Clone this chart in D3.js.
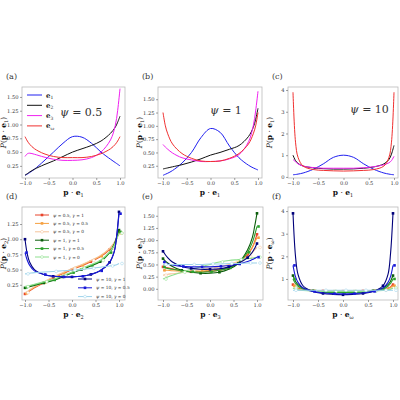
<!DOCTYPE html><html><head><meta charset="utf-8"><script src="https://cdn.jsdelivr.net/npm/d3@7"></script>
<style>body{margin:0;background:#fff}text{font-family:"DejaVu Serif","Liberation Serif",serif}</style></head><body><svg id="c" width="400" height="400"></svg><script>
const X=[-1,-0.95,-0.9,-0.8,-0.6,-0.4,-0.2,0,0.2,0.4,0.6,0.8,0.9,0.95,1];
// panel a (psi=0.5)
const a_e1=[.08,.1,.13,.19,.34,.5,.66,.78,.77,.66,.5,.37,.31,.28,.25];
const a_e2=[.08,.11,.14,.19,.27,.34,.42,.5,.56,.62,.7,.84,.95,1.04,1.15];
const a_e3=[.42,.47,.48,.46,.41,.37,.35,.35,.36,.4,.5,.72,.98,1.25,1.65];
const a_ew=[.78,.7,.64,.56,.47,.42,.4,.4,.4,.42,.47,.56,.64,.7,.78];
// panel b (psi=1)
const b_e1=[.07,.09,.11,.16,.3,.5,.78,.95,.88,.62,.4,.26,.21,.19,.17];
const b_e2=[.19,.2,.21,.23,.27,.32,.38,.45,.5,.56,.63,.8,.97,1.12,1.33];
const b_e3=[.65,.6,.56,.49,.4,.36,.33,.33,.34,.38,.46,.7,1.0,1.28,1.65];
const b_ew=[1.25,1.0,.85,.66,.48,.39,.34,.33,.34,.39,.48,.66,.85,1.0,1.25];
// panel c (psi=10)
const c_e1=[.1,.11,.13,.18,.35,.6,.9,1.0,.9,.6,.35,.18,.13,.11,.1];
const c_e2=[1.0,.75,.62,.5,.42,.38,.36,.36,.37,.4,.46,.6,.8,1.05,1.45];
const c_e3=[.8,.7,.6,.5,.43,.4,.4,.4,.4,.42,.47,.56,.65,.75,.95];
const c_ew=[3.9,1.6,.9,.5,.34,.3,.28,.27,.28,.3,.34,.5,.9,1.6,3.9];
// panel d (e2)
const d=[[.1,.12,.15,.2,.28,.36,.43,.5,.56,.63,.71,.83,.93,1.01,1.12],
[.11,.13,.16,.21,.29,.37,.44,.51,.57,.64,.72,.84,.94,1.02,1.1],
[.12,.14,.17,.22,.3,.38,.45,.52,.58,.65,.73,.85,.95,1.03,1.1],
[.2,.21,.22,.24,.28,.32,.38,.45,.5,.56,.63,.78,.92,1.03,1.15],
[.21,.22,.23,.25,.29,.33,.39,.45,.51,.57,.64,.78,.91,1.01,1.12],
[.22,.23,.24,.26,.3,.34,.4,.46,.52,.58,.65,.79,.9,1.0,1.1],
[1.0,.75,.62,.5,.42,.39,.38,.38,.39,.42,.48,.62,.8,1.05,1.45],
[.78,.65,.57,.48,.42,.39,.38,.38,.39,.42,.48,.62,.8,1.05,1.42],
[.43,.435,.44,.45,.46,.47,.48,.49,.5,.52,.54,.56,.57,.58,.6]];
// panel e (e3)
const e=[[.45,.44,.43,.41,.37,.35,.35,.36,.38,.43,.52,.7,.85,.97,1.12],
[.38,.38,.38,.37,.36,.36,.36,.38,.4,.45,.55,.72,.85,.95,1.05],
[.28,.29,.3,.31,.33,.36,.39,.42,.45,.5,.56,.66,.74,.8,.85],
[.62,.57,.53,.46,.38,.34,.32,.32,.34,.4,.52,.8,1.05,1.28,1.55],
[.45,.43,.42,.4,.37,.35,.34,.35,.38,.43,.53,.75,.95,1.1,1.28],
[.2,.22,.24,.28,.34,.4,.45,.5,.55,.58,.6,.62,.63,.64,.65],
[.77,.7,.64,.55,.46,.42,.4,.4,.41,.45,.52,.64,.75,.83,.93],
[.55,.53,.51,.49,.46,.45,.45,.45,.46,.48,.51,.56,.6,.62,.65],
[.5,.5,.5,.5,.5,.5,.5,.51,.51,.52,.52,.53,.53,.53,.53]];
// panel f (e_omega)
const f=[[.75,.65,.6,.54,.49,.47,.46,.46,.46,.47,.49,.54,.6,.65,.75],
[.7,.62,.57,.52,.48,.46,.46,.46,.46,.46,.48,.52,.57,.62,.7],
[.6,.56,.53,.5,.48,.47,.47,.47,.47,.47,.48,.5,.53,.56,.6],
[1.15,.9,.75,.6,.48,.42,.4,.4,.4,.42,.48,.6,.75,.9,1.15],
[1.0,.8,.68,.56,.47,.42,.4,.4,.4,.42,.47,.56,.68,.8,1.0],
[.6,.55,.52,.49,.46,.45,.45,.45,.45,.45,.46,.49,.52,.55,.6],
[3.9,2.0,1.2,.7,.45,.36,.32,.3,.32,.36,.45,.7,1.2,2.1,3.9],
[1.6,1.1,.85,.6,.45,.38,.35,.34,.35,.38,.45,.6,.85,1.1,1.6],
[.5,.5,.5,.5,.5,.5,.5,.5,.5,.5,.5,.5,.5,.5,.5]];
const seriesLabels=[["0.5","1"],["0.5","0.5"],["0.5","0"],["1","1"],["1","0.5"],["1","0"],["10","1"],["10","0.5"],["10","0"]];
const eLabels=["1","2","3","ω"];
const xTicks=[-1,-0.5,0,0.5,1];

const cols4=["#2020f0","#111111","#f020f0","#f03030"];
const cols9=["#e8452c","#f5a040","#f5c49a","#0b5d0b","#2ca02c","#8fe08f","#00007a","#1a1ad8","#9cd2ea"];
const svg=d3.select("#c");
const fmt2=d3.format(".2f"),fmt1=d3.format(".1f");
function panel(o){
  const g=svg.append("g");
  const x=d3.scaleLinear().domain([-1,1]).range([o.x0,o.x1]);
  const y=d3.scaleLinear().domain(o.yd).range([o.b,o.t]);
  g.append("rect").attr("x",o.l).attr("y",o.t).attr("width",o.r-o.l).attr("height",o.b-o.t).attr("fill","#fff").attr("stroke","#bbb").attr("stroke-width",0.8);
  const ax=g.append("g").attr("transform",`translate(0,${o.b})`).call(d3.axisBottom(x).tickValues(xTicks).tickFormat(v=>v<0?"−"+fmt1(-v):fmt1(v)).tickSize(2).tickPadding(1.5));
  const ay=g.append("g").attr("transform",`translate(${o.l},0)`).call(d3.axisLeft(y).tickValues(o.yt).tickFormat(o.yf).tickSize(2).tickPadding(1.5));
  [ax,ay].forEach(a=>{a.select(".domain").remove();a.selectAll("text").attr("font-size",5.2).attr("fill","#333");a.selectAll("line").attr("stroke","#444").attr("stroke-width",0.5);});
  const line=d3.line().x((v,i)=>x(X[i])).y(v=>y(v)).curve(d3.curveCatmullRom);
  const cl=g.append("g");
  o.ser.forEach((s,k)=>{
    cl.append("path").attr("d",line(s)).attr("fill","none").attr("stroke",o.cols[k]).attr("stroke-width",o.mk?1.1:1);
    if(o.mk){
      const idx=[0,4,5,6,7,8,9,10,11,14].filter((q,j)=>(j+k)%2==0||q==0||q==14);
      idx.forEach(i=>{
        const open=k%3==2;
        if(open) cl.append("circle").attr("cx",x(X[i])+(k%3)*1.5).attr("cy",y(s[i])).attr("r",1.4).attr("fill","#fff").attr("stroke",o.cols[k]).attr("stroke-width",0.5);
        else cl.append("rect").attr("x",x(X[i])-1.3+(k%3)*1.5).attr("y",y(s[i])-1.3).attr("width",2.6).attr("height",2.6).attr("fill",o.cols[k]);
      });
    }
  });
  g.append("text").attr("x",o.l-16).attr("y",o.t-8).attr("font-size",8).attr("fill","#333").text(o.tag);
  const xl=g.append("text").attr("x",(o.l+o.r)/2).attr("y",o.b+17).attr("text-anchor","middle").attr("font-size",7.5).attr("fill","#111");
  xl.append("tspan").attr("font-weight","bold").text("p");xl.append("tspan").text(" · ");xl.append("tspan").attr("font-weight","bold").text("e");
  xl.append("tspan").attr("font-size",5).attr("dy",1.5).text(o.sub);
  const yl=g.append("text").attr("transform",`translate(${o.l-16},${(o.t+o.b)/2}) rotate(-90)`).attr("text-anchor","middle").attr("font-size",7.5).attr("fill","#111");
  yl.append("tspan").attr("font-style","italic").text("P");yl.append("tspan").text("(");
  yl.append("tspan").attr("font-weight","bold").text("p");yl.append("tspan").text(" · ");yl.append("tspan").attr("font-weight","bold").text("e");
  yl.append("tspan").attr("font-size",5).attr("dy",1.5).text(o.sub);yl.append("tspan").attr("dy",-1.5).text(")");
  return g;
}
const f2=v=>fmt2(v), f0=v=>d3.format("d")(v);
const row1={t:87,b:178}, row2={t:207,b:300};
const ga=panel({...row1,l:22,r:125,x0:25,x1:120,yd:[0.03,1.68],yt:[.25,.5,.75,1,1.25,1.5],yf:f2,ser:[a_e1,a_e2,a_e3,a_ew],cols:cols4,tag:"(a)",sub:"1"});
panel({...row1,l:158,r:262,x0:163,x1:258,yd:[0.02,1.73],yt:[.25,.5,.75,1,1.25,1.5],yf:f2,ser:[b_e1,b_e2,b_e3,b_ew],cols:cols4,tag:"(b)",sub:"1"});
panel({...row1,l:288,r:398,x0:293,x1:394,yd:[-0.05,4.14],yt:[0,1,2,3,4],yf:f0,ser:[c_e1,c_e2,c_e3,c_ew],cols:cols4,tag:"(c)",sub:"1"});
const gd=panel({...row2,l:22,r:125,x0:25,x1:119,yd:[0,1.53],yt:[.25,.5,.75,1,1.25],yf:f2,ser:d,cols:cols9,mk:true,tag:"(d)",sub:"2"});
panel({...row2,l:158,r:263,x0:163,x1:257,yd:[-0.23,1.68],yt:[0,.25,.5,.75,1,1.25,1.5],yf:f2,ser:e,cols:cols9,mk:true,tag:"(e)",sub:"3"});
panel({...row2,l:288,r:398,x0:293,x1:393,yd:[0.07,4.18],yt:[1,2,3,4],yf:f0,ser:f,cols:cols9,mk:true,tag:"(f)",sub:"ω"});
// psi labels
[[60,116,"0.5"],[210,114,"1"],[350,113,"10"]].forEach(p=>{const t=svg.append("text").attr("x",p[0]).attr("y",p[1]).attr("font-size",11).attr("fill","#333");t.append("tspan").attr("font-style","italic").text("ψ");t.append("tspan").text(" = "+p[2]);});
// legend a
eLabels.forEach((s,i)=>{const y=95+i*10.3;ga.append("line").attr("x1",27).attr("x2",42).attr("y1",y).attr("y2",y).attr("stroke",cols4[i]).attr("stroke-width",1);
 const t=ga.append("text").attr("x",46).attr("y",y+2.5).attr("font-size",7).attr("fill","#222");t.append("tspan").attr("font-weight","bold").text("e");t.append("tspan").attr("font-size",4.5).attr("dy",1.5).text(s);});
// legend d
seriesLabels.forEach((s,i)=>{let lx,ly;if(i<6){lx=35;ly=215+i*8.4}else{lx=78;ly=279+(i-6)*8.8}
 gd.append("line").attr("x1",lx).attr("x2",lx+14).attr("y1",ly).attr("y2",ly).attr("stroke",cols9[i]).attr("stroke-width",1);
 if(i%3==2) gd.append("circle").attr("cx",lx+7).attr("cy",ly).attr("r",1.4).attr("fill","#fff").attr("stroke",cols9[i]).attr("stroke-width",.5);
 else gd.append("rect").attr("x",lx+5.7).attr("y",ly-1.3).attr("width",2.6).attr("height",2.6).attr("fill",cols9[i]);
 const t=gd.append("text").attr("x",lx+18).attr("y",ly+1.5).attr("font-size",4.3).attr("fill","#333");
 t.append("tspan").attr("font-style","italic").text("ψ");t.append("tspan").text(" = "+s[0]+", ");t.append("tspan").attr("font-style","italic").text("γ");t.append("tspan").text(" = "+s[1]);});
</script></body></html>
